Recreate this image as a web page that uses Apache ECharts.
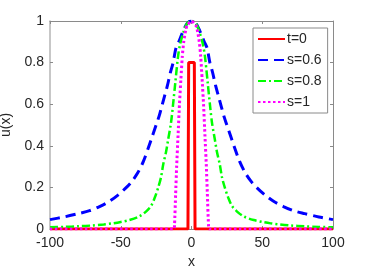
<!DOCTYPE html>
<html>
<head>
<meta charset="utf-8">
<script src="https://cdn.jsdelivr.net/npm/echarts@6/dist/echarts.min.js"></script>
<style>
html,body{margin:0;padding:0;background:#fff;}
#c{width:368px;height:276px;}
</style>
</head>
<body>
<div id="c"></div>
<script>
// ---- data ----
var seriesNames = ['t=0', 's=0.6', 's=0.8', 's=1'];

var xT0 = [-100, -2.5, -2, 2, 2.5, 100];
var yT0 = [0, 0, 0.8, 0.8, 0, 0];

// half profiles (x >= 0), mirrored to negative x (curves are symmetric)
var xS06 = [0, 3, 6, 9, 11, 13, 15, 17, 19, 21, 23, 25, 28, 30, 34, 38, 42, 46, 52, 58, 65, 72, 80, 90, 100];
var yS06 = [1, 0.99, 0.95, 0.9, 0.87, 0.8, 0.75, 0.69, 0.64, 0.59, 0.54, 0.5, 0.44, 0.4, 0.325, 0.27, 0.23, 0.2, 0.163, 0.133, 0.108, 0.088, 0.074, 0.058, 0.045];

var xS08 = [0, 3, 5.5, 8, 9.5, 11.5, 13, 14.5, 16.5, 18, 20, 21.5, 23.5, 26, 28.5, 32, 37, 44, 50, 56, 62, 70, 80, 90, 100];
var yS08 = [1, 0.99, 0.95, 0.89, 0.83, 0.7, 0.6, 0.51, 0.43, 0.37, 0.31, 0.25, 0.2, 0.15, 0.112, 0.085, 0.06, 0.043, 0.034, 0.027, 0.022, 0.017, 0.013, 0.01, 0.008];

var xS1 = [0, 3, 4, 5.5, 6.5, 7.5, 8.5, 9.5, 10.5, 11.2, 12, 12.5, 100];
var yS1 = [1, 0.98, 0.96, 0.9, 0.83, 0.72, 0.6, 0.45, 0.3, 0.17, 0.02, 0, 0];

var xTicks = [-100, -50, 0, 50, 100];
var yTicks = [0, 0.2, 0.4, 0.6, 0.8, 1];

// ---- build ----
function pairs(xs, ys) {
  var out = [];
  for (var i = 0; i < xs.length; i++) out.push([xs[i], ys[i]]);
  return out;
}
function mirrored(xs, ys) {
  var out = [];
  for (var i = xs.length - 1; i > 0; i--) out.push([-xs[i], ys[i]]);
  for (var j = 0; j < xs.length; j++) out.push([xs[j], ys[j]]);
  return out;
}

var FONT = 'Liberation Sans';
var TXT = '#262626';
var AX = '#8a8a8a';

var chart = echarts.init(document.getElementById('c'), null, {renderer: 'canvas'});
var axisCommonX = {
  type: 'value', min: -100, max: 100, interval: 50,
  splitLine: {show: false}
};
var axisCommonY = {
  type: 'value', min: 0, max: 1, interval: 0.2,
  splitLine: {show: false}
};
chart.setOption({
  animation: false,
  backgroundColor: '#ffffff',
  grid: {left: 50, right: 35, top: 21, bottom: 47, containLabel: false, outerBoundsMode: 'none'},
  xAxis: [
    Object.assign({}, axisCommonX, {
      position: 'bottom',
      name: 'x', nameLocation: 'middle', nameGap: 24,
      nameTextStyle: {fontFamily: FONT, fontSize: 14, color: TXT},
      axisLine: {show: true, onZero: false, lineStyle: {color: AX, width: 1}},
      axisTick: {show: true, inside: true, length: 3, lineStyle: {color: AX}},
      axisLabel: {show: true, margin: 7, fontFamily: FONT, fontSize: 14, color: TXT,
        formatter: function (v) { return xTicks.indexOf(v) >= 0 ? String(v) : ''; }}
    }),
    Object.assign({}, axisCommonX, {
      position: 'top',
      axisLine: {show: true, onZero: false, lineStyle: {color: AX, width: 1}},
      axisTick: {show: true, inside: true, length: 3, lineStyle: {color: AX}},
      axisLabel: {show: false}
    })
  ],
  yAxis: [
    Object.assign({}, axisCommonY, {
      position: 'left',
      name: 'u(x)', nameLocation: 'middle', nameGap: 31, nameRotate: 90,
      nameTextStyle: {fontFamily: FONT, fontSize: 14, color: TXT},
      axisLine: {show: true, onZero: false, lineStyle: {color: '#b4b4b4', width: 1.5}},
      axisTick: {show: true, inside: true, length: 3, lineStyle: {color: AX}},
      axisLabel: {show: true, margin: 6, fontFamily: FONT, fontSize: 14, color: TXT,
        formatter: function (v) { return yTicks.indexOf(v) >= 0 ? String(v) : ''; }}
    }),
    Object.assign({}, axisCommonY, {
      position: 'right',
      axisLine: {show: true, onZero: false, lineStyle: {color: AX, width: 1}},
      axisTick: {show: true, inside: true, length: 3, lineStyle: {color: AX}},
      axisLabel: {show: false}
    })
  ],
  legend: {
    left: 253, top: 28, orient: 'vertical',
    width: 72,
    padding: [4, 6, 4, 4],
    itemWidth: 27, itemHeight: 14, itemGap: 7,
    backgroundColor: '#ffffff',
    borderColor: '#8a8a8a', borderWidth: 1, borderRadius: 0,
    itemStyle: {opacity: 0, borderWidth: 0},
    textStyle: {fontFamily: FONT, fontSize: 14, color: TXT, padding: [0, 0, 0, -3]},
    data: seriesNames.map(function (n) { return {name: n}; })
  },
  series: [
    {name: seriesNames[0], type: 'line', data: pairs(xT0, yT0), showSymbol: false, symbol: 'none',
     lineStyle: {color: '#ff0000', width: 3, type: 'solid'}, itemStyle: {color: '#ff0000'}},
    {name: seriesNames[1], type: 'line', data: mirrored(xS06, yS06), showSymbol: false, symbol: 'none', smooth: 0.3,
     lineStyle: {color: '#0000ff', width: 3, type: [10, 6]}, itemStyle: {color: '#0000ff'}},
    {name: seriesNames[2], type: 'line', data: mirrored(xS08, yS08), showSymbol: false, symbol: 'none', smooth: 0.3,
     lineStyle: {color: '#00ff00', width: 2.5, type: [8, 3, 2, 3]}, itemStyle: {color: '#00ff00'}},
    {name: seriesNames[3], type: 'line', data: mirrored(xS1, yS1), showSymbol: false, symbol: 'none', smooth: 0.2,
     lineStyle: {color: '#ff00ff', width: 3, type: [2.5, 2.5]}, itemStyle: {color: '#ff00ff'}}
  ]
});
</script>
</body>
</html>
